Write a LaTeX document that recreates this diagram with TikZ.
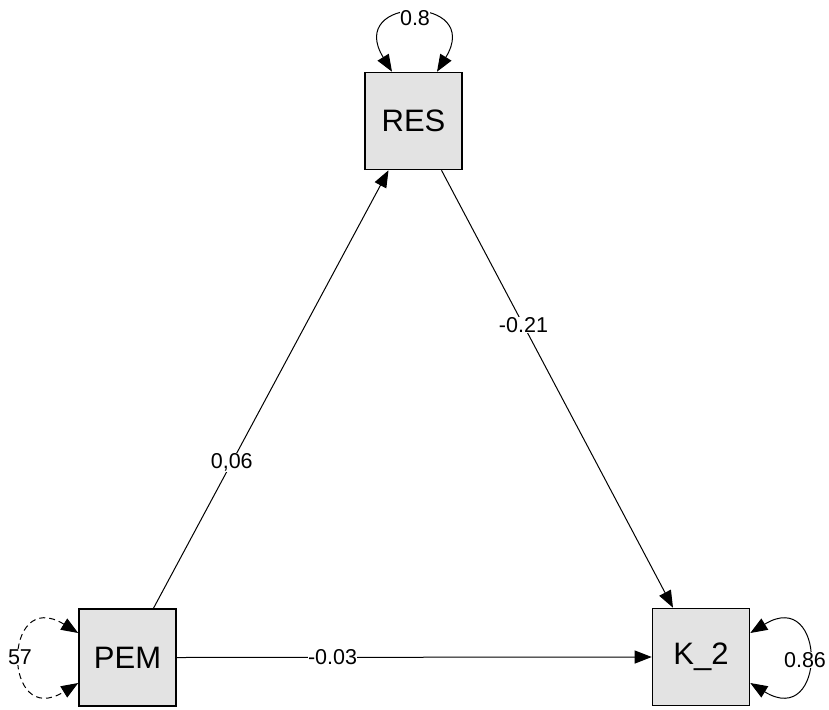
\documentclass[tikz,border=0pt]{standalone}
\usepackage{fontspec}
\setmainfont{Liberation Sans}
\usetikzlibrary{arrows.meta}
\begin{document}
\begin{tikzpicture}[x=1pt,y=-1pt,
  var/.style={draw=black,line width=1.6pt,fill=boxgray,minimum size=97pt,inner sep=0pt,font=\fontsize{31}{34}\selectfont},
  elab/.style={fill=white,inner sep=0.3pt,font=\fontsize{21.5}{23}\selectfont},
  path/.style={line width=1pt,-{Triangle[length=17pt,width=13pt]}},
  loopp/.style={line width=1pt,{Triangle[length=17pt,width=13pt]}-{Triangle[length=17pt,width=13pt]}}]
\definecolor{boxgray}{HTML}{E3E3E3}
\useasboundingbox (0,0) rectangle (829,709);
\node[var] (RES) at (413.5,121) {RES};
\node[var] (PEM) at (127.5,657.5) {PEM};
\node[var] (K2) at (701,657) {K\_2};
% paths
\draw[path] ([xshift=26pt]PEM.north) -- node[elab,pos=0.333] (l1) {0,06} ([xshift=-25pt]RES.south);
\draw[path] ([xshift=28pt]RES.south) -- node[elab,pos=0.354] (l2) {-0.21} ([xshift=-28pt]K2.north);
\draw[path] (PEM.east) -- node[elab,pos=0.328] (l3) {-0.03} (K2.west);
% variance loops
\coordinate (r1) at ([xshift=-21.5pt]RES.north);
\coordinate (r2) at ([xshift=23.5pt]RES.north);
\draw[loopp] (r1) .. controls (345,-5) and (484,-5) .. (r2);
\node[elab] (v1) at (415,18) {0.8};
\coordinate (p1) at ([yshift=24.5pt]PEM.west);
\coordinate (p2) at ([yshift=-25.5pt]PEM.west);
\draw[loopp,dash pattern=on 6pt off 4pt] (p1) .. controls (2,586) and (2,730) .. (p2);
\node[elab] (v2) at (20,657) {57};
\coordinate (k1) at ([yshift=24pt]K2.east);
\coordinate (k2) at ([yshift=-26pt]K2.east);
\draw[loopp] (k1) .. controls (827,586) and (827,730) .. (k2);
\node[elab] (v3) at (805,660) {0.86};
\end{tikzpicture}
\end{document}
